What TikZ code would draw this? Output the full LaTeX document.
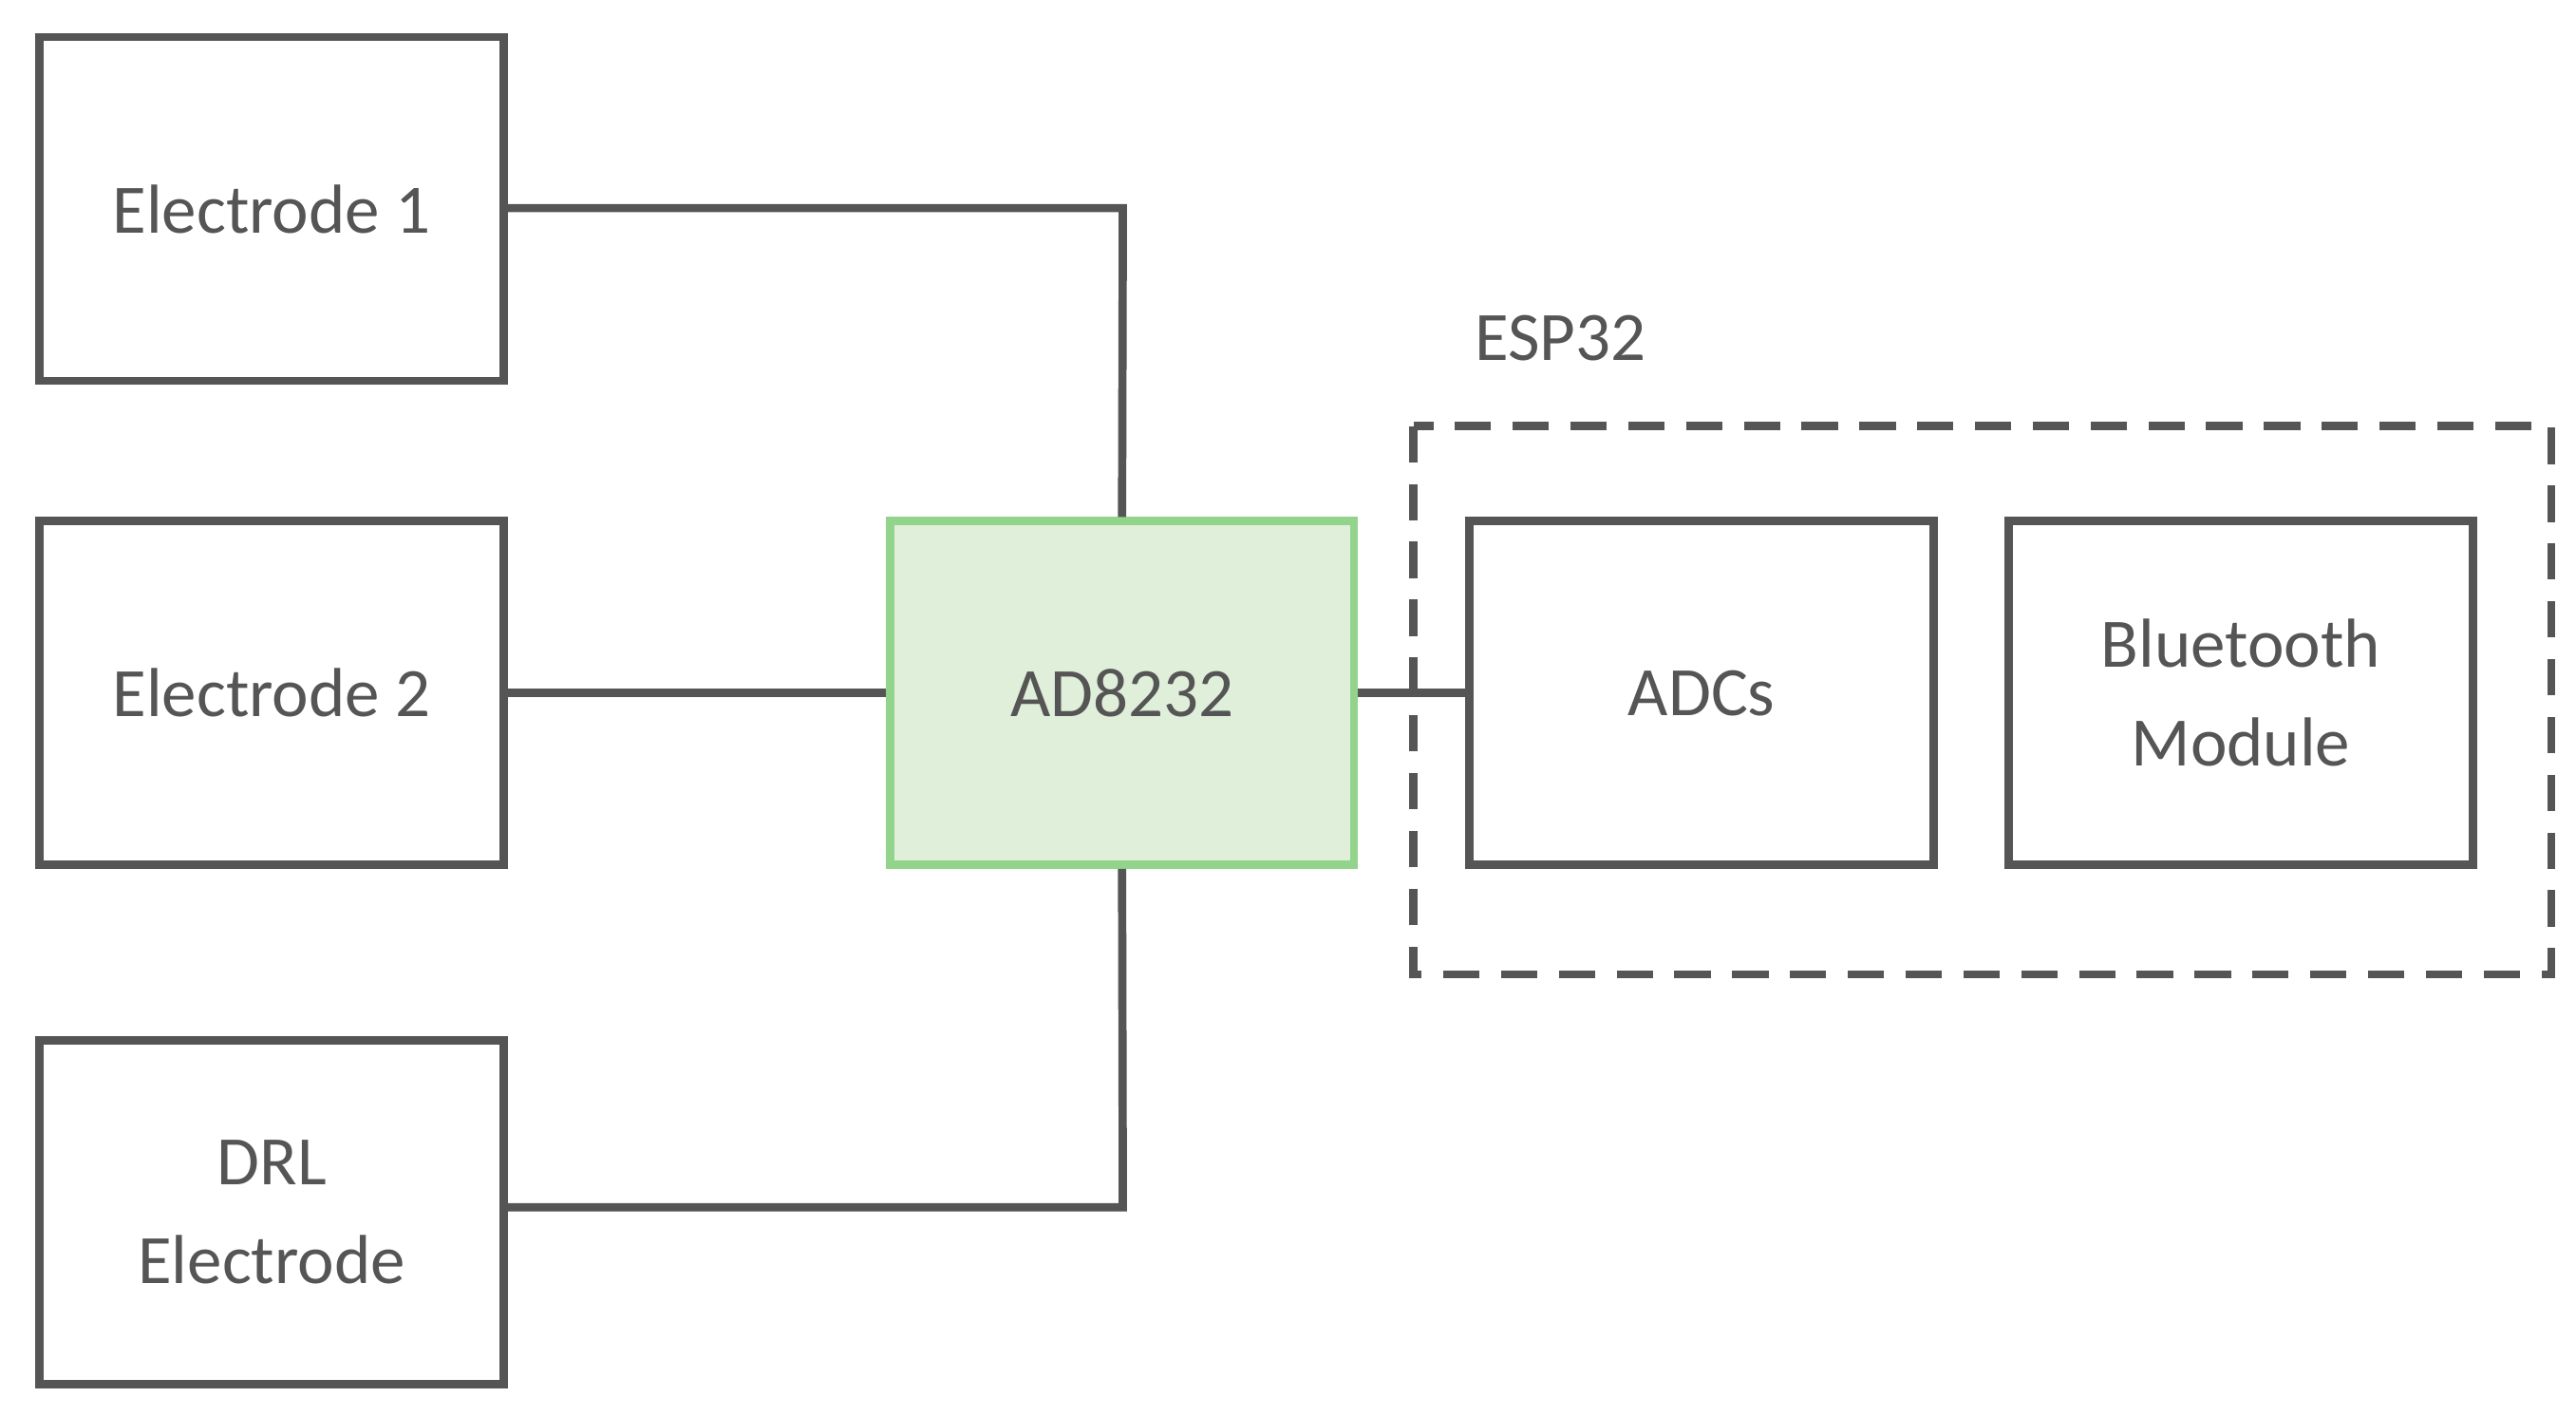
\documentclass[tikz,border=0pt]{standalone}
\usepackage{fontspec}
\setmainfont{Carlito}
\begin{document}
\begin{tikzpicture}[x=1pt,y=-1pt,
  box/.style={draw=dg,line width=5pt,minimum width=281pt,minimum height=208pt,inner sep=0pt,align=center,font=\fontsize{42}{60}\selectfont,text=dg},
  wire/.style={draw=dg,line width=5pt}]
\definecolor{dg}{HTML}{555555}
\definecolor{gb}{HTML}{93D48C}
\definecolor{gf}{HTML}{DFEFDA}
\useasboundingbox (0,0) rectangle (1560,857);
\node[box] (e1) at (164.5,126.5) {Electrode 1};
\node[box] (e2) at (164.5,419.5) {Electrode 2};
\node[box] (drl) at (164.5,734) {DRL\\Electrode};
\node[box,draw=gb,fill=gf] (ad) at (679.5,419.5) {AD8232};
\draw[dg,line width=5pt,dash pattern=on 22pt off 13pt] (856,258) rectangle (1545,590);
\node[font=\fontsize{42}{50}\selectfont,text=dg] (esp) at (945,205) {ESP32};
\node[box] (adc) at (1030.5,419.5) {ADCs};
\node[box] (bt) at (1357,419.5) {Bluetooth\\Module};
\coordinate (c1) at (680,126);
\coordinate (c3) at (680,731);
\draw[wire] (e1.east |- c1) -- (c1) -- (ad.north);
\draw[wire] (e2.east) -- (ad.west);
\draw[wire] (drl.east |- c3) -- (c3) -- (ad.south);
\draw[wire] (ad.east) -- (adc.west);
\end{tikzpicture}
\end{document}
